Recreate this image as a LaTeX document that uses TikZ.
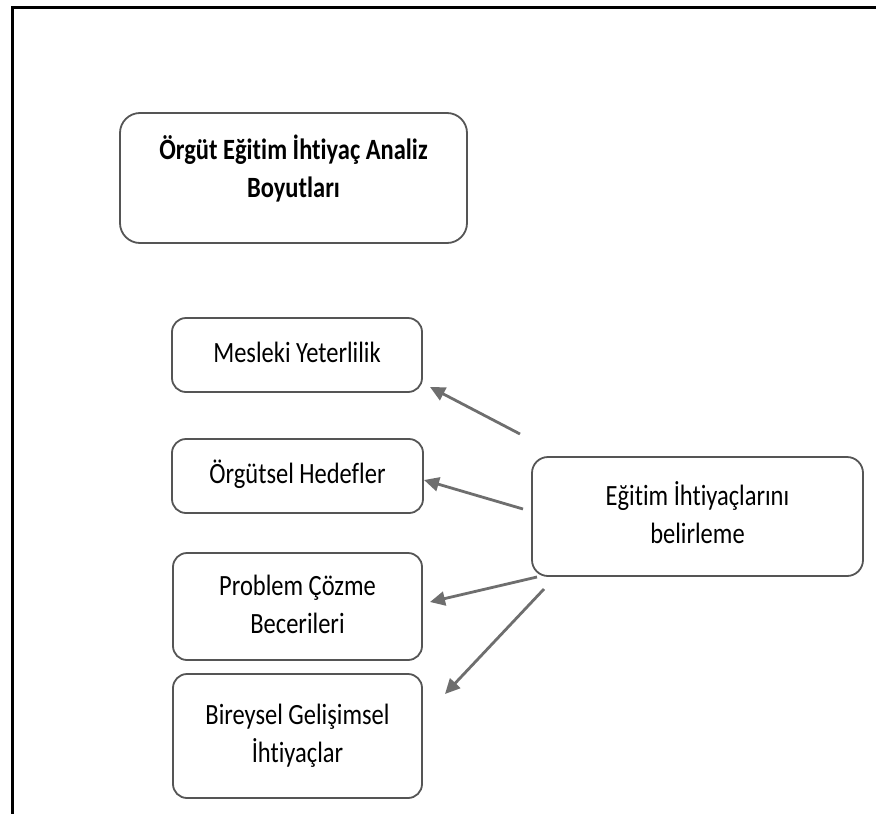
\documentclass[tikz,border=0pt]{standalone}
\usepackage{fontspec}
\usepackage{graphicx}
\setmainfont{Carlito}[Ligatures=NoCommon]
\usetikzlibrary{arrows.meta}
\definecolor{boxline}{HTML}{555555}
\definecolor{arrowgray}{HTML}{6E6E6E}
% tall label text: lines stacked, then stretched vertically
\newcommand{\tallstack}[1]{\scalebox{1}[1.2]{\begin{tabular}{@{}c@{}}#1\end{tabular}}}
\begin{document}
\begin{tikzpicture}[x=1pt,y=-1pt,
  box/.style={draw=boxline, line width=1.8pt, rounded corners=14pt, align=center,
    inner sep=0pt, font=\fontsize{24.5}{31.7}\selectfont},
  arr/.style={draw=arrowgray, line width=2.8pt,
    -{Triangle[length=15pt,width=14pt]}}]
  \useasboundingbox (0,0) rectangle (876,814);
  % frame lines along the top and left edges
  \draw[line width=2.5pt] (12.5,814) -- (12.5,7.5) -- (876,7.5);

  % title
  \node[box, rounded corners=20pt, minimum width=347pt, minimum height=130pt,
        label={[yshift=7pt, font=\fontsize{24.5}{31.7}\selectfont\bfseries]center:\tallstack{Örgüt Eğitim İhtiyaç Analiz\\Boyutları}}]
    (title) at (293.5,178) {};

  % dimensions
  \node[box, minimum width=250pt, minimum height=74pt] (mes) at (297,355) {\tallstack{Mesleki Yeterlilik}};
  \node[box, minimum width=251pt, minimum height=74pt] (org) at (297.5,476) {\tallstack{Örgütsel Hedefler}};
  \node[box, minimum width=249pt, minimum height=107pt] (prob) at (297.5,606.5) {\tallstack{Problem Çözme\\Becerileri}};
  \node[box, minimum width=249pt, minimum height=124pt] (bir) at (297.5,736) {\tallstack{Bireysel Gelişimsel\\İhtiyaçlar}};

  % source
  \node[box, rounded corners=16pt, minimum width=331pt, minimum height=119pt] (eg) at (697.5,516.5) {\tallstack{Eğitim İhtiyaçlarını\\belirleme}};

  % arrow end points
  \coordinate (s1) at (520,434);
  \coordinate (t1) at (430,387);
  \coordinate (s2) at (523,509);
  \coordinate (t2) at (424,480);
  \coordinate (s3) at (537,577);
  \coordinate (t3) at (430,602);
  \coordinate (s4) at (544,589);
  \coordinate (t4) at (445,694);

  \draw[arr] (s1) -- (t1);
  \draw[arr] (s2) -- (t2);
  \draw[arr] (s3) -- (t3);
  \draw[arr] (s4) -- (t4);
\end{tikzpicture}
\end{document}
